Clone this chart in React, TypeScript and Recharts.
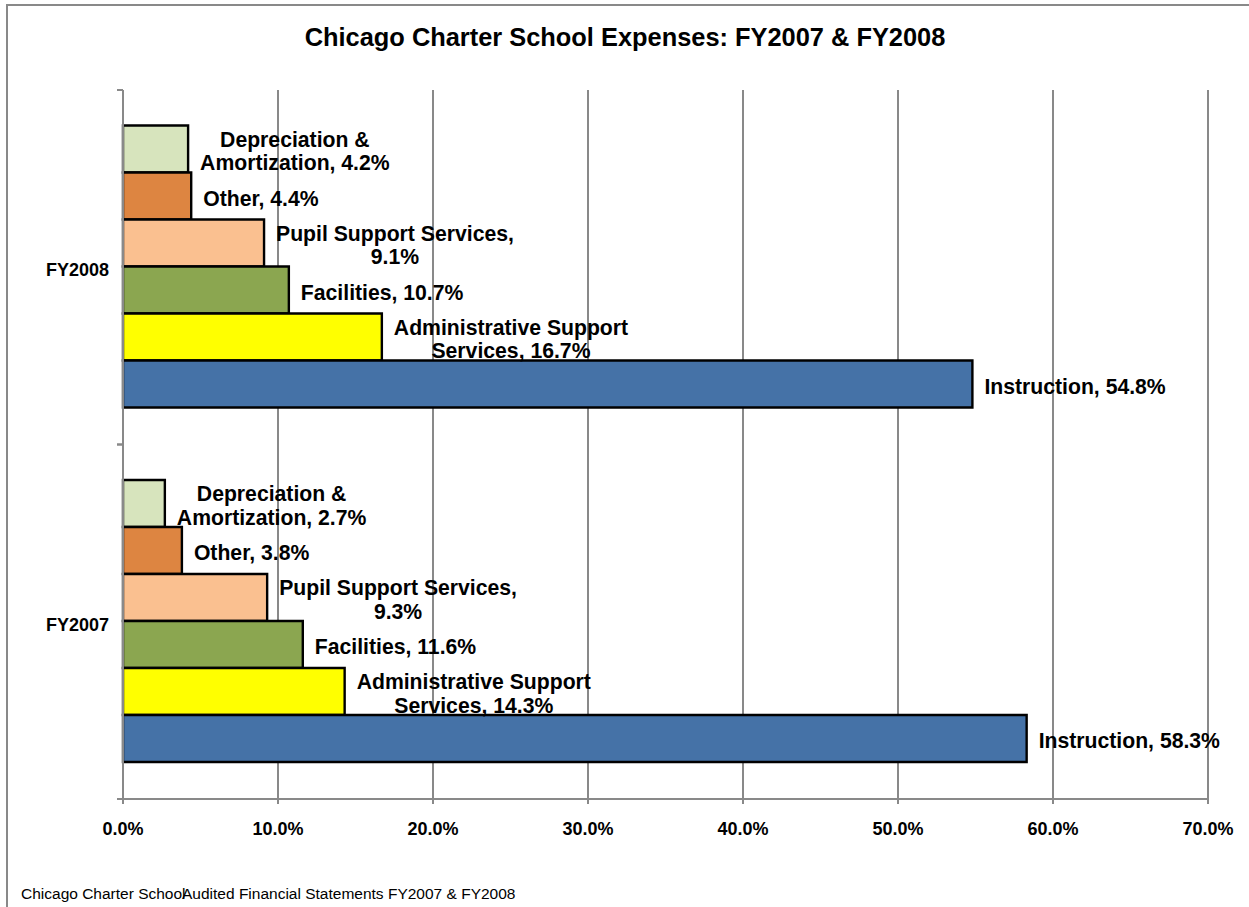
import React from 'react';
import { BarChart, Bar, XAxis, YAxis, CartesianGrid, LabelList } from 'recharts';

// values (percent of total expenses)
const years = ['FY2008', 'FY2007'];
const depreciation = [4.2, 2.7];
const other = [4.4, 3.8];
const pupilSupport = [9.1, 9.3];
const facilities = [10.7, 11.6];
const adminSupport = [16.7, 14.3];
const instruction = [54.8, 58.3];
const xTicks = [0, 10, 20, 30, 40, 50, 60, 70];

const series = [
    { key: 'depreciation', name: 'Depreciation & Amortization', color: '#D7E4BD' },
    { key: 'other', name: 'Other', color: '#DD8541' },
    { key: 'pupilSupport', name: 'Pupil Support Services', color: '#FAC090' },
    { key: 'facilities', name: 'Facilities', color: '#8BA650' },
    { key: 'adminSupport', name: 'Administrative Support Services', color: '#FFFF00' },
    { key: 'instruction', name: 'Instruction', color: '#4572A7' },
];

const data = years.map((year, i) => ({
    year,
    depreciation: depreciation[i],
    other: other[i],
    pupilSupport: pupilSupport[i],
    facilities: facilities[i],
    adminSupport: adminSupport[i],
    instruction: instruction[i],
}));

const FONT = "'Liberation Sans', Arial, sans-serif";
const GRAY = '#898989';
const W = 1249;
const H = 907;
const MARGIN = { top: 90, right: 41, bottom: 78, left: 0 };
const X_AXIS_H = 30;
const PLOT_H = H - MARGIN.top - MARGIN.bottom - X_AXIS_H;

const LABEL_SIZE = 21.2;
const LABEL_WRAP = 248;

let ctx: CanvasRenderingContext2D | null = null;
const measure = (s: string) => {
    if (!ctx) {
        ctx = document.createElement('canvas').getContext('2d');
    }
    if (!ctx) return s.length * LABEL_SIZE * 0.55;
    ctx.font = `bold ${LABEL_SIZE}px ${FONT}`;
    return ctx.measureText(s).width;
};

const wrap = (text: string, maxW: number) => {
    const words = text.split(' ');
    const lines: string[] = [];
    let cur = '';
    words.forEach((w) => {
        const next = cur ? cur + ' ' + w : w;
        if (cur && measure(next) > maxW) {
            lines.push(cur);
            cur = w;
        } else {
            cur = next;
        }
    });
    if (cur) lines.push(cur);
    return lines;
};

const makeLabel = (name: string) => (props: any) => {
    const { x, y, width, height, value } = props;
    const lines = wrap(`${name}, ${Number(value).toFixed(1)}%`, LABEL_WRAP);
    const maxW = Math.max(...lines.map(measure));
    const cx = x + width + 12 + maxW / 2;
    const cy = y + height / 2 + 2;
    const lh = 23.5;
    return (
        <text textAnchor="middle" fontSize={LABEL_SIZE} fontWeight="bold" fontFamily={FONT} fill="#000">
            {lines.map((l, i) => (
                <tspan key={i} x={cx} y={cy + (i - (lines.length - 1) / 2) * lh + LABEL_SIZE * 0.36}>
                    {l}
                </tspan>
            ))}
        </text>
    );
};

const YTick = (props: any) => {
    const { x, y, payload } = props;
    const half = payload && payload.offset ? payload.offset : PLOT_H / years.length / 2;
    const axisX = x + 14;
    return (
        <g>
            <text x={x} y={y} dy={9} textAnchor="end" fontSize={18} fontWeight="bold" fontFamily={FONT} fill="#000">
                {payload.value}
            </text>
            <line x1={axisX - 6} x2={axisX} y1={y - half} y2={y - half} stroke={GRAY} strokeWidth={2} />
            <line x1={axisX - 6} x2={axisX} y1={y + half} y2={y + half} stroke={GRAY} strokeWidth={2} />
        </g>
    );
};

export default function App() {
    return (
        <div style={{ position: 'absolute', left: 0, top: 0, width: W, height: H, overflow: 'hidden', background: '#fff' }}>
            <div style={{ position: 'absolute', left: 6, top: 4, width: 1300, height: 1000, border: `2px solid ${GRAY}` }} />
            <div style={{ position: 'absolute', left: 0, top: 0 }}>
                <BarChart
                    width={W}
                    height={H}
                    data={data}
                    layout="vertical"
                    margin={MARGIN}
                    barCategoryGap="10%"
                    barGap={0}
                >
                    <CartesianGrid horizontal={false} stroke={GRAY} strokeWidth={2} />
                    <XAxis
                        type="number"
                        domain={[0, 70]}
                        ticks={xTicks}
                        height={X_AXIS_H}
                        tickFormatter={(v: number) => `${v.toFixed(1)}%`}
                        tick={{ fill: '#000', fontSize: 18, fontWeight: 'bold', fontFamily: FONT }}
                        axisLine={{ stroke: GRAY, strokeWidth: 2 }}
                        tickLine={{ stroke: GRAY, strokeWidth: 2 }}
                        tickSize={5}
                        tickMargin={18}
                        interval={0}
                    />
                    <YAxis
                        type="category"
                        dataKey="year"
                        width={123}
                        tick={<YTick />}
                        tickLine={false}
                        tickSize={5}
                        tickMargin={9}
                        axisLine={{ stroke: GRAY, strokeWidth: 2 }}
                    />
                    {series.map((s) => (
                        <Bar
                            key={s.key}
                            dataKey={s.key}
                            name={s.name}
                            fill={s.color}
                            stroke="#000"
                            strokeWidth={2.4}
                            isAnimationActive={false}
                        >
                            <LabelList dataKey={s.key} content={makeLabel(s.name)} />
                        </Bar>
                    ))}
                </BarChart>
            </div>
            <svg width={W} height={H} style={{ position: 'absolute', left: 0, top: 0, pointerEvents: 'none' }}>
                <text x={625} y={46} textAnchor="middle" fontSize={25.4} fontWeight="bold" fontFamily={FONT} fill="#000">
                    Chicago Charter School Expenses: FY2007 &amp; FY2008
                </text>
                <text x={21} y={899} fontSize={15.5} fontFamily={FONT} fill="#000">
                    Chicago Charter School
                </text>
                <text x={182} y={899} fontSize={15.5} fontFamily={FONT} fill="#000">
                    Audited Financial Statements FY2007 &amp; FY2008
                </text>
            </svg>
        </div>
    );
}
